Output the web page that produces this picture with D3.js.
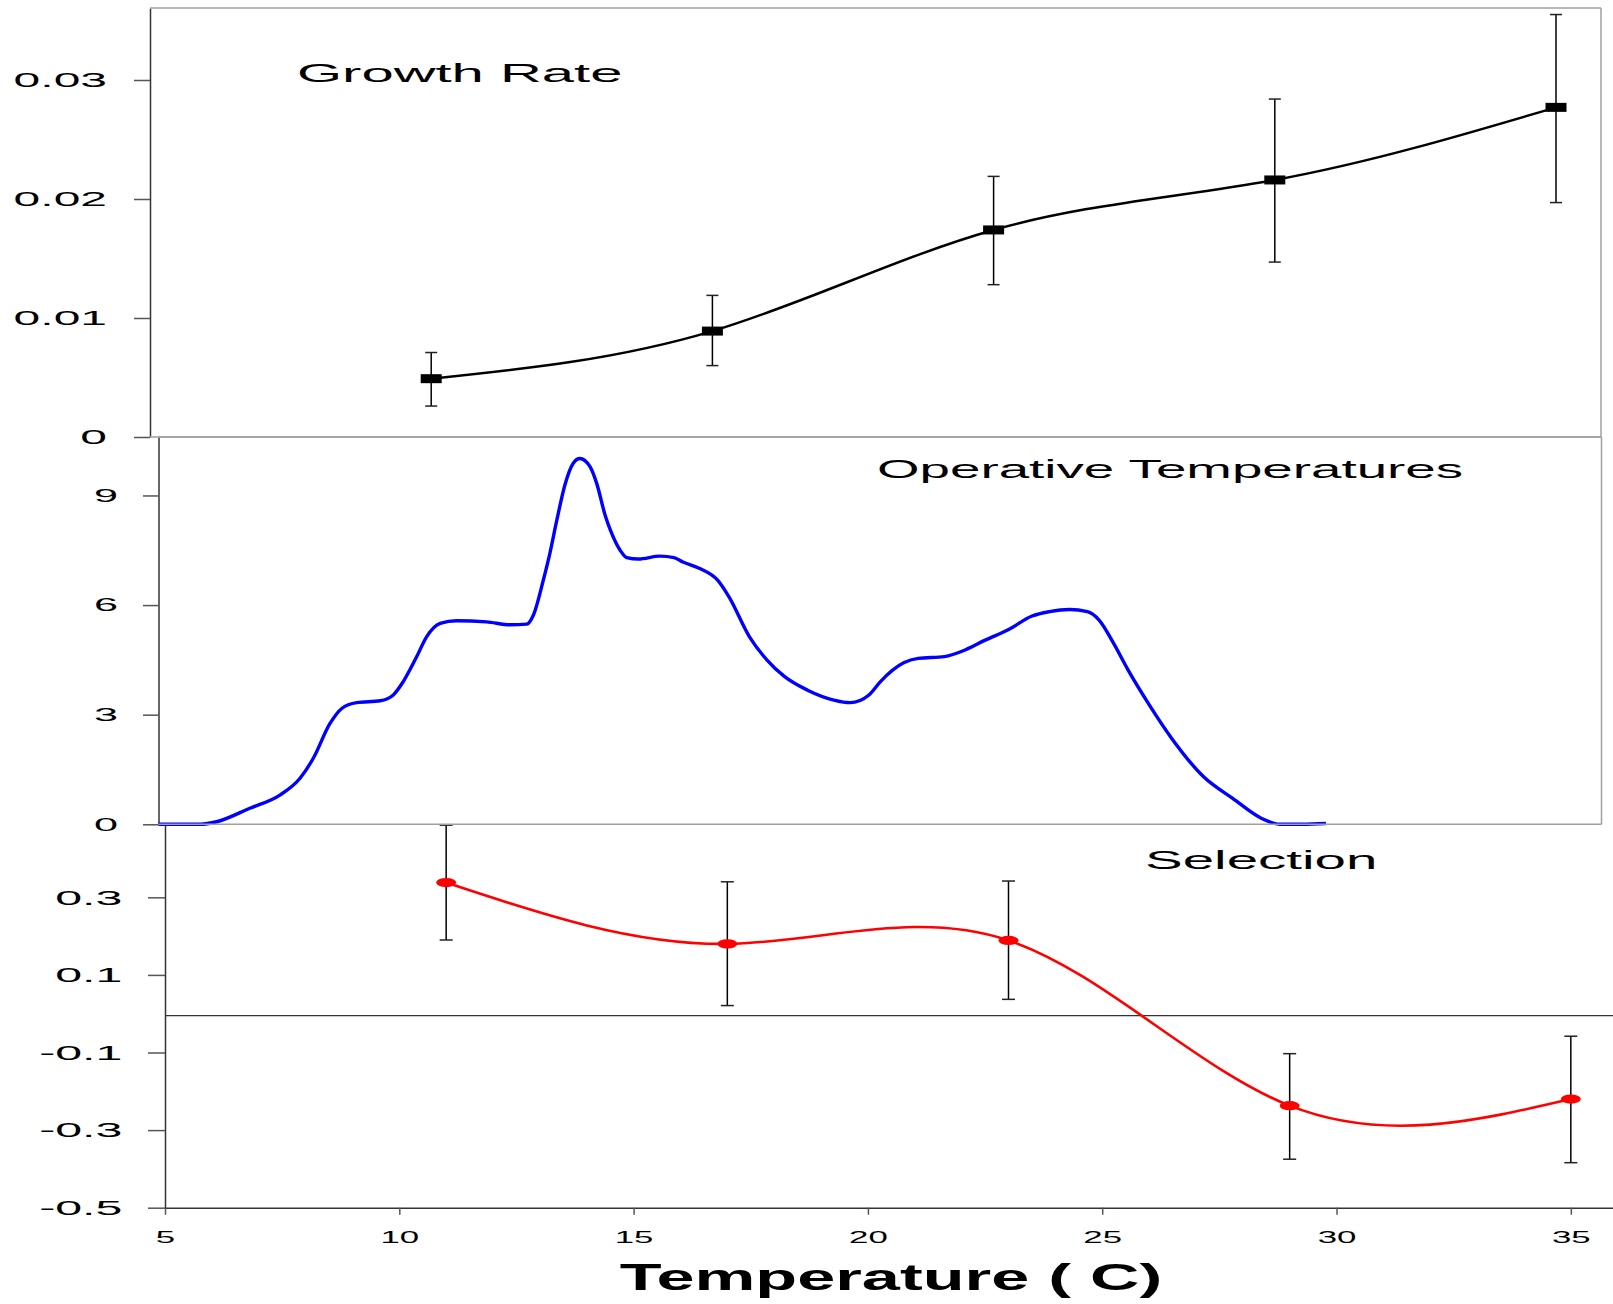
<!DOCTYPE html>
<html>
<head>
<meta charset="utf-8">
<script src="https://cdn.jsdelivr.net/npm/d3@7"></script>
<style>
  body { margin: 0; background: #fff; }
  svg { display: block; font-family: "Liberation Sans", Arial, sans-serif; }
</style>
</head>
<body>
<svg id="chart" width="1613" height="1304"></svg>
<script>
// ---- data ----
const tempPoints = [11, 17, 23, 29, 35];

const growthRate = [0.0049, 0.0089, 0.0174, 0.0216, 0.0277];
const growthLow = [0.0026, 0.006, 0.0128, 0.0147, 0.0197];
const growthHigh = [0.0071, 0.0119, 0.0219, 0.0284, 0.0355];

const selection = [0.338, 0.18, 0.189, -0.237, -0.22];
const selectionLow = [0.19, 0.021, 0.037, -0.375, -0.384];
const selectionHigh = [0.486, 0.34, 0.342, -0.103, -0.058];

const opTemp = [
  5.0, 5.5, 5.9, 6.24, 6.95, 7.59, 8.02, 8.3, 8.66, 8.91, 9.23, 9.73, 10.01, 10.22, 10.51,
  10.72, 11.01, 11.36, 12.0, 12.5, 12.86, 13.0, 13.21, 13.35, 13.5, 13.67, 13.85, 13.99,
  14.21, 14.35, 14.53, 14.67, 14.85, 14.99, 15.24, 15.7, 16.0, 16.19, 16.55, 16.93, 17.17,
  17.61, 17.98, 18.36, 18.85, 19.41, 19.76, 20.16, 20.4, 20.9, 21.21, 21.77, 22.21, 22.64,
  23.14, 23.64, 24.01, 24.44, 24.82, 25.07, 25.38, 25.69, 26.12, 26.62, 27.3, 27.92, 28.54,
  28.92, 29.4, 29.91
];
const opFreq = [
  0, 0, 0, 0.07, 0.44, 0.8, 1.26, 1.8, 2.76, 3.17, 3.33, 3.38, 3.54, 3.9, 4.59,
  5.13, 5.5, 5.57, 5.54, 5.46, 5.48, 5.73, 6.68, 7.41, 8.33, 9.28, 9.88, 10.01,
  9.78, 9.33, 8.46, 7.96, 7.5, 7.3, 7.26, 7.34, 7.3, 7.18, 7.0, 6.68, 6.23,
  5.13, 4.5, 4.04, 3.67, 3.4, 3.33, 3.54, 3.9, 4.42, 4.54, 4.59, 4.77, 5.04,
  5.33, 5.7, 5.82, 5.88, 5.82, 5.59, 4.95, 4.22, 3.31, 2.35, 1.3, 0.71, 0.16,
  0, 0, 0.02
];

const growthTicks = [0, 0.01, 0.02, 0.03];
const opTicks = [0, 3, 6, 9];
const selectionTicks = [-0.5, -0.3, -0.1, 0.1, 0.3];
const tempTicks = [5, 10, 15, 20, 25, 30, 35];

// ---- setup ----
const svg = d3.select("#chart");
const FRAME = "#a0a0a0";
const AXIS = "#333";

// the original figure is stretched sideways, so text is too
function wideText(parent, x, y, str, size, sx, anchor, weight) {
  return parent.append("text")
    .attr("transform", `translate(${x},${y}) scale(${sx},1)`)
    .attr("text-anchor", anchor || "start")
    .attr("font-size", size)
    .attr("font-weight", weight || "normal")
    .attr("fill", "#000")
    .text(str);
}

function styleAxis(g, size, sx) {
  g.attr("font-size", null).attr("font-family", null);
  g.select(".domain").attr("stroke", AXIS).attr("stroke-width", 1.5);
  g.selectAll(".tick line").attr("stroke", "#555").attr("stroke-width", 1.5);
  g.selectAll(".tick text")
    .attr("font-size", size)
    .attr("fill", "#000")
    .each(function () {
      const t = d3.select(this);
      const x = +t.attr("x") || 0;
      t.attr("x", 0).attr("transform", `translate(${x},0) scale(${sx},1)`);
    });
}

function frameLine(x1, y1, x2, y2, color, w) {
  svg.append("line")
    .attr("x1", x1).attr("y1", y1).attr("x2", x2).attr("y2", y2)
    .attr("stroke", color).attr("stroke-width", w || 1.5);
}

function errorBars(g, xs, ys, lo, hi, capW) {
  tempPoints.forEach((t, i) => {
    const x = xs(t);
    g.append("line").attr("x1", x).attr("x2", x)
      .attr("y1", ys(lo[i])).attr("y2", ys(hi[i]))
      .attr("stroke", "#000").attr("stroke-width", 1.5);
    [lo[i], hi[i]].forEach(v => {
      g.append("line").attr("x1", x - capW / 2).attr("x2", x + capW / 2)
        .attr("y1", ys(v)).attr("y2", ys(v))
        .attr("stroke", "#222").attr("stroke-width", 1.5);
    });
  });
}

////////////////////////////////////////////////////////////////////////////////////
// bottom panel: selection

const xSel = d3.scaleLinear().domain([5, 35.9]).range([165, 1613]);
const ySel = d3.scaleLinear().domain([-0.5, 0.49]).range([1207.7, 823.6]);

const gSel = svg.append("g");

gSel.append("line")
  .attr("x1", xSel(5)).attr("x2", 1613)
  .attr("y1", ySel(0) + 2).attr("y2", ySel(0) + 2)
  .attr("stroke", AXIS).attr("stroke-width", 1.2);

gSel.append("g")
  .attr("transform", `translate(${xSel(5)},0)`)
  .call(d3.axisLeft(ySel).tickValues(selectionTicks).tickSize(17).tickPadding(25.6)
    .tickSizeOuter(0).tickFormat(d => d.toFixed(1)))
  .call(g => styleAxis(g, 21, 2.3));

gSel.append("g")
  .attr("transform", `translate(0,${ySel(-0.5)})`)
  .call(d3.axisBottom(xSel).tickValues(tempTicks).tickSize(7).tickPadding(16.2)
    .tickSizeOuter(0).tickFormat(d3.format("d")))
  .call(g => styleAxis(g, 17, 2.05));

gSel.append("path")
  .datum(tempPoints.map((t, i) => [t, selection[i]]))
  .attr("fill", "none")
  .attr("stroke", "#ff0000")
  .attr("stroke-width", 2.6)
  .attr("d", d3.line().x(d => xSel(d[0])).y(d => ySel(d[1])).curve(d3.curveNatural));

errorBars(gSel, xSel, ySel, selectionLow, selectionHigh, 13);

gSel.selectAll("ellipse")
  .data(tempPoints)
  .enter()
  .append("ellipse")
  .attr("cx", d => xSel(d))
  .attr("cy", (d, i) => ySel(selection[i]))
  .attr("rx", 10)
  .attr("ry", 4.6)
  .attr("fill", "#ff0000");

wideText(gSel, 1145, 869, "Selection", 25, 2.26);

////////////////////////////////////////////////////////////////////////////////////
// middle panel: operative temperatures

const xOp = d3.scaleLinear().domain([5, 35.79]).range([158.5, 1601.5]);
const yOp = d3.scaleLinear().domain([0, 10.6]).range([824.3, 437]);

const gOp = svg.append("g");

frameLine(158.5, 437, 1601.5, 437, FRAME);
frameLine(1601.5, 437, 1601.5, 824.3, FRAME);
frameLine(158.5, 824.3, 1601.5, 824.3, FRAME);

gOp.append("g")
  .attr("transform", `translate(${xOp(5)},0)`)
  .call(d3.axisLeft(yOp).tickValues(opTicks).tickSize(15.5).tickPadding(25)
    .tickSizeOuter(0).tickFormat(d3.format("d")))
  .call(g => styleAxis(g, 18, 2.4));

gOp.append("path")
  .datum(opTemp.map((t, i) => [t, opFreq[i]]))
  .attr("fill", "none")
  .attr("stroke", "#0000ff")
  .attr("stroke-width", 3.4)
  .attr("stroke-linejoin", "round")
  .attr("d", d3.line().x(d => xOp(d[0])).y(d => yOp(d[1])).curve(d3.curveMonotoneX));

wideText(gOp, 877, 478, "Operative Temperatures", 25, 2.19);

////////////////////////////////////////////////////////////////////////////////////
// top panel: growth rate

const xGr = d3.scaleLinear().domain([5, 35.96]).range([150, 1601]);
const yGr = d3.scaleLinear().domain([0, 0.03605]).range([437, 8]);

const gGr = svg.append("g");

frameLine(150, 8, 1601, 8, FRAME);
frameLine(1601, 8, 1601, 437, FRAME);
frameLine(150, 437, 1601, 437, FRAME);

gGr.append("g")
  .attr("transform", `translate(${xGr(5)},0)`)
  .call(d3.axisLeft(yGr).tickValues(growthTicks).tickSize(16).tickPadding(27)
    .tickSizeOuter(0).tickFormat(d => (d === 0 ? "0" : d.toFixed(2))))
  .call(g => styleAxis(g, 20, 2.4));

gGr.append("path")
  .datum(tempPoints.map((t, i) => [t, growthRate[i]]))
  .attr("fill", "none")
  .attr("stroke", "#000")
  .attr("stroke-width", 2.5)
  .attr("d", d3.line().x(d => xGr(d[0])).y(d => yGr(d[1])).curve(d3.curveNatural));

errorBars(gGr, xGr, yGr, growthLow, growthHigh, 12);

gGr.selectAll("rect.marker")
  .data(tempPoints)
  .enter()
  .append("rect")
  .attr("class", "marker")
  .attr("x", d => xGr(d) - 10.5)
  .attr("y", (d, i) => yGr(growthRate[i]) - 4.5)
  .attr("width", 21)
  .attr("height", 9)
  .attr("fill", "#000");

wideText(gGr, 297, 82, "Growth Rate", 25, 2.32);

////////////////////////////////////////////////////////////////////////////////////
// shared x title

wideText(svg, 891, 1290, "Temperature ( C)", 37, 1.85, "middle", "bold");
</script>
</body>
</html>
